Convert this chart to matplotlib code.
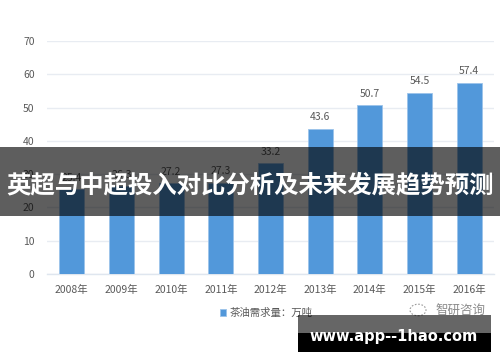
import matplotlib
matplotlib.use("Agg")
import matplotlib.pyplot as plt
from matplotlib.patches import Rectangle, Circle
import numpy as np

plt.rcParams['font.family'] = ['Noto Sans CJK SC', 'DejaVu Sans']

years = ['2008年', '2009年', '2010年', '2011年', '2012年', '2013年', '2014年', '2015年', '2016年']
values = [25.4, 26.3, 27.2, 27.3, 33.2, 43.6, 50.7, 54.5, 57.4]
legend_label = '茶油需求量：万吨'
title = '英超与中超投入对比分析及未来发展趋势预测'
url = 'www.app--1hao.com'
watermark = '智研咨询'

fig = plt.figure(figsize=(5.0, 3.62), dpi=100)
ax = fig.add_axes([0.094, 0.243, 0.894, 0.644])

x = np.arange(len(years))
bars = ax.bar(x, values, width=0.5, color='#5298da', edgecolor='#9cc3ea', linewidth=0.6,
              label=legend_label, zorder=3)
for xi, v in zip(x, values):
    ax.text(xi, v + 2.0, f'{v}', ha='center', va='bottom', fontsize=7.5, color='#595959', zorder=4)

ax.set_xlim(-0.5, len(years) - 0.5)
ax.set_ylim(0, 70)
ax.set_yticks(range(0, 71, 10))
ax.set_xticks(x)
ax.set_xticklabels(years)
ax.tick_params(axis='both', length=0, labelsize=7.5, labelcolor='#595959')
ax.tick_params(axis='x', pad=8)
ax.tick_params(axis='y', pad=9)
ax.grid(axis='y', color='#e8ecf2', linewidth=1.0, zorder=0)
for s in ['top', 'right', 'left']:
    ax.spines[s].set_visible(False)
ax.spines['bottom'].set_color('#dfe6ef')
ax.spines['bottom'].set_linewidth(1.0)

leg = ax.legend(loc='upper center', bbox_to_anchor=(0.49, -0.105), frameon=False,
                fontsize=7.5, handlelength=0.6, handleheight=0.6, handletextpad=0.3)
for t in leg.get_texts():
    t.set_color('#595959')

# watermark
fig.text(0.872, 1 - 310 / 362, watermark, ha='left', va='center', fontsize=9, color='#8a8a8a')
fig.patches.append(Circle((418 / 500, 1 - 310 / 362), 0.016, transform=fig.transFigure,
                          fill=False, edgecolor='#9a9a9a', linewidth=0.8, linestyle=(0, (1.5, 1.5))))

# title banner overlay
fig.patches.append(Rectangle((0, 1 - 216 / 362), 1, 69 / 362, transform=fig.transFigure,
                             facecolor='black', alpha=0.63, edgecolor='none', zorder=10))
fig.text(0.5, 1 - 185 / 362, title, ha='center', va='center', fontsize=17.6,
         fontweight='bold', color='white', zorder=11)

# bottom url banner
fig.patches.append(Rectangle((298 / 500, 1 - 333 / 362), 193 / 500, 18 / 362, transform=fig.transFigure,
                             facecolor='black', alpha=0.6, edgecolor='none', zorder=10))
fig.patches.append(Rectangle((298 / 500, 1 - 352 / 362), 193 / 500, 19 / 362, transform=fig.transFigure,
                             facecolor='black', edgecolor='none', zorder=10))
fig.text(394 / 500, 1 - 336 / 362, url, ha='center', va='center', fontsize=10.5,
         fontweight='bold', color='white', family='DejaVu Sans', zorder=11)

fig.savefig('out.png', dpi=100)
